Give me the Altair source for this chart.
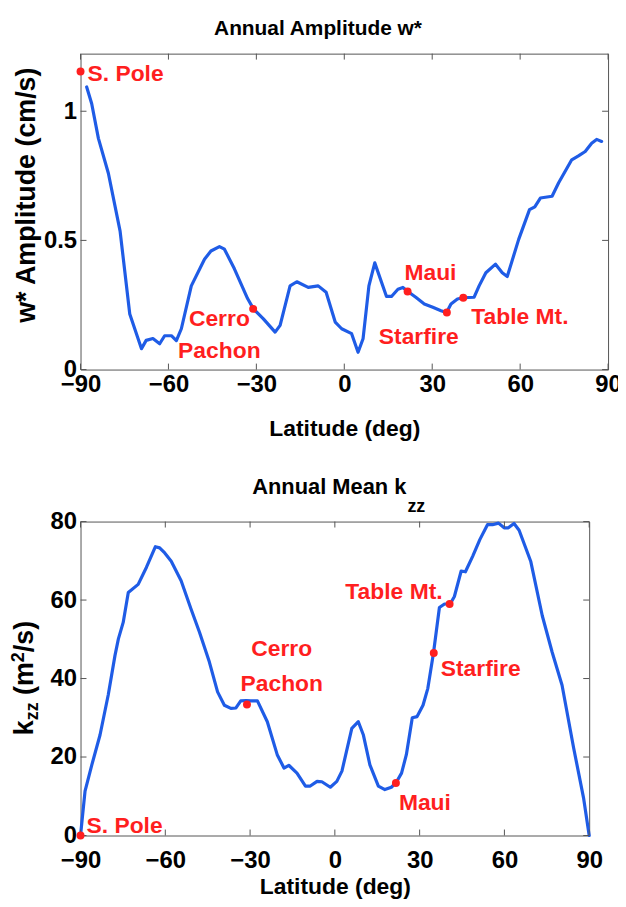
import altair as alt
import pandas as pd

# ---------------- data ----------------
top_lat = [-87.9, -86.2, -83.9, -80.5, -76.5, -73.2, -69.2, -67.6, -65.3, -63.0, -61.3, -59.0,
           -57.3, -55.6, -52.2, -47.7, -45.5, -42.6, -40.9, -37.5, -33.0, -31.0, -27.6, -23.6,
           -21.9, -18.5, -16.2, -12.3, -8.9, -6.2, -3.1, -0.9, 2.5, 4.7, 6.4, 8.4, 10.4, 14.4,
           16.1, 18.3, 20.0, 21.7, 24.5, 27.3, 30.2, 33.0, 34.9, 36.4, 38.6, 40.5, 44.3, 46.0,
           48.3, 51.6, 53.9, 55.6, 59.5, 63.2, 65.0, 66.9, 70.9, 73.1, 77.6, 79.9, 82.2, 84.4,
           86.1, 87.8]
top_val = [1.094, 1.03, 0.895, 0.76, 0.536, 0.215, 0.081, 0.113, 0.12, 0.10, 0.131, 0.131,
           0.112, 0.158, 0.324, 0.427, 0.459, 0.476, 0.466, 0.39, 0.275, 0.235, 0.196, 0.145,
           0.171, 0.324, 0.34, 0.318, 0.324, 0.299, 0.184, 0.158, 0.139, 0.067, 0.119, 0.324,
           0.413, 0.283, 0.283, 0.311, 0.318, 0.302, 0.279, 0.254, 0.241, 0.228, 0.221, 0.254,
           0.273, 0.278, 0.28, 0.324, 0.375, 0.408, 0.375, 0.360, 0.504, 0.619, 0.630, 0.664,
           0.671, 0.722, 0.812, 0.827, 0.844, 0.876, 0.891, 0.883]

bot_lat = [-90.0, -88.4, -86.0, -83.1, -80.2, -77.8, -76.6, -74.9, -73.1, -69.6, -66.7, -63.5,
           -62.0, -60.2, -57.9, -54.4, -50.9, -47.9, -44.4, -41.5, -39.1, -36.8, -35.0, -33.3,
           -31.3, -29.8, -27.4, -23.9, -20.4, -18.0, -16.3, -13.4, -10.4, -8.7, -6.3, -4.6,
           -1.6, 0.7, 2.5, 6.0, 8.3, 10.1, 12.4, 15.4, 17.7, 20.0, 21.6, 23.6, 25.3, 27.4,
           29.1, 31.2, 32.9, 34.9, 37.0, 38.8, 40.8, 42.3, 44.7, 46.2, 48.8, 51.3, 54.0, 55.8,
           57.9, 59.9, 61.4, 63.4, 65.2, 69.3, 73.4, 76.9, 80.4, 84.5, 88.0, 90.0]
bot_val = [0, 11.3, 18.0, 25.6, 35.8, 45.9, 50.1, 54.3, 61.9, 64.0, 68.3, 73.6,
           73.3, 72.0, 69.9, 64.9, 57.7, 51.8, 44.2, 36.6, 33.2, 32.4, 32.5, 34.3,
           34.4, 34.3, 34.3, 29.0, 20.6, 17.2, 17.9, 15.9, 12.6, 12.6, 13.8, 13.7,
           12.3, 13.8, 16.4, 27.3, 29.0, 25.6, 18.0, 12.6, 11.7, 12.3, 13.4, 15.9, 20.6, 30.0,
           30.3, 33.2, 37.5, 46.5, 58.1, 59.0, 59.0, 60.9, 67.4, 67.2, 71.2, 75.4, 79.2, 79.2,
           79.6, 78.4, 78.4, 79.5, 77.8, 69.9, 56.0, 46.7, 38.3, 22.3, 9.6, 0]

site_names = ["S. Pole", "Cerro\nPachon", "Maui", "Starfire", "Table Mt."]
site_lat = [-90.0, -31.1, 21.6, 35.0, 40.6]
site_w = [1.154, 0.235, 0.302, 0.221, 0.278]
site_k = [0.0, 33.4, 13.4, 46.5, 59.0]

x_ticks = [-90, -60, -30, 0, 30, 60, 90]
w_ticks = [0, 0.5, 1]
k_ticks = [0, 20, 40, 60, 80]

title_top = "Annual Amplitude w*"
title_bot_main = "Annual Mean k"
title_bot_sub = "zz"
ytitle_top = "w* Amplitude (cm/s)"
xtitle = "Latitude (deg)"

# ---------------- styles ----------------
FONT = "Liberation Sans, Arial, Helvetica, sans-serif"
BLUE = "#1f5ce6"
RED = "#ff1f1f"
FRAME = "#555555"


def txt(s, x, y, size, align="center", angle=0, color="black"):
    return alt.Chart(pd.DataFrame({"t": [s]})).mark_text(
        align=align, baseline="alphabetic", font=FONT, fontSize=size,
        fontWeight="bold", color=color, angle=angle
    ).encode(x=alt.value(x), y=alt.value(y), text="t:N")


def panel(lat, val, site_val, y_domain, y_ticks, W, H, x_lab_pad, x_title_pad,
          offsets, line_h, extra):
    line_df = pd.DataFrame({"lat": lat, "val": val})
    site_df = pd.DataFrame({"lat": site_lat, "val": site_val, "name": site_names})
    x = alt.X("lat:Q", scale=alt.Scale(domain=[-90, 90], nice=False, zero=False),
              axis=alt.Axis(values=x_ticks, format="d", labelPadding=x_lab_pad,
                            labelFlush=False, title=xtitle, titlePadding=x_title_pad))
    y = alt.Y("val:Q", scale=alt.Scale(domain=y_domain, nice=False, zero=False),
              axis=alt.Axis(values=y_ticks, labelExpr="format(datum.value, '~g')",
                            labelPadding=4, title=None))
    layers = [alt.Chart(line_df).mark_line(color=BLUE, strokeWidth=3.2, strokeJoin="round",
                                           strokeCap="round").encode(x=x, y=y)]
    xt = pd.DataFrame({"lat": x_ticks})
    yt = pd.DataFrame({"val": y_ticks})
    rule = dict(color=FRAME, strokeWidth=1)
    layers.append(alt.Chart(xt).mark_rule(**rule).encode(x=x, y=alt.value(H), y2=alt.value(H - 6)))
    layers.append(alt.Chart(xt).mark_rule(**rule).encode(x=x, y=alt.value(0), y2=alt.value(6)))
    layers.append(alt.Chart(yt).mark_rule(**rule).encode(y=y, x=alt.value(0), x2=alt.value(6)))
    layers.append(alt.Chart(yt).mark_rule(**rule).encode(y=y, x=alt.value(W), x2=alt.value(W - 6)))
    layers.append(alt.Chart(site_df).mark_circle(size=64, color=RED, opacity=1).encode(x=x, y=y))
    for i, (align, dx, dy) in enumerate(offsets):
        one = site_df.iloc[[i]]
        layers.append(alt.Chart(one).mark_text(
            align=align, baseline="alphabetic", dx=dx, dy=dy, font=FONT, fontSize=23,
            fontWeight="bold", color=RED, lineBreak="\n", lineHeight=line_h
        ).encode(x=x, y=y, text="name:N"))
    layers.extend(extra)
    return alt.layer(*layers).properties(width=W, height=H)


W1, H1 = 531, 318
W2, H2 = 512, 316

top_extra = [
    txt(title_top, 239, -19, 21),
    txt(ytitle_top, -46, 14, 27, align="right", angle=270),
]
bot_extra = [
    txt(title_bot_main, 328, -28, 22, align="right"),
    txt(title_bot_sub, 329, -10, 18, align="left"),
    txt("k", -48, 215, 27, align="left", angle=270),
    txt("zz", -43, 200, 18, align="left", angle=270),
    txt("(m", -48, 174.5, 27, align="left", angle=270),
    txt("2", -57, 141.5, 18, align="left", angle=270),
    txt("/s)", -48, 100, 27, align="right", angle=270),
]

top_offsets = [("left", 7, 10), ("center", -34, 17), ("center", 23, -12),
               ("right", 12, 32), ("right", 106, 26)]
bot_offsets = [("left", 6, -3), ("center", 35, -49), ("left", 3, 27),
               ("left", 7, 23), ("right", -7, -5)]

top = panel(top_lat, top_val, site_w, [0, 1.223], w_ticks, W1, H1, 3, 21,
            top_offsets, 32, top_extra)
bot = panel(bot_lat, bot_val, site_k, [0, 80], k_ticks, W2, H2, 13, 3,
            bot_offsets, 35, bot_extra)

chart = alt.vconcat(top, bot, spacing=153, bounds="flush").properties(
    padding={"left": 1, "top": 6, "right": -4, "bottom": 0},
    background="white",
).configure_view(
    stroke=FRAME, strokeWidth=1
).configure_axis(
    labelFont=FONT, labelFontSize=24, labelFontWeight="bold", labelColor="black",
    titleFont=FONT, titleFontSize=23, titleFontWeight="bold", titleColor="black",
    domain=False, ticks=False, tickSize=0, grid=False,
)

chart.save("out.html", embed_options={"renderer": "svg", "actions": False})
